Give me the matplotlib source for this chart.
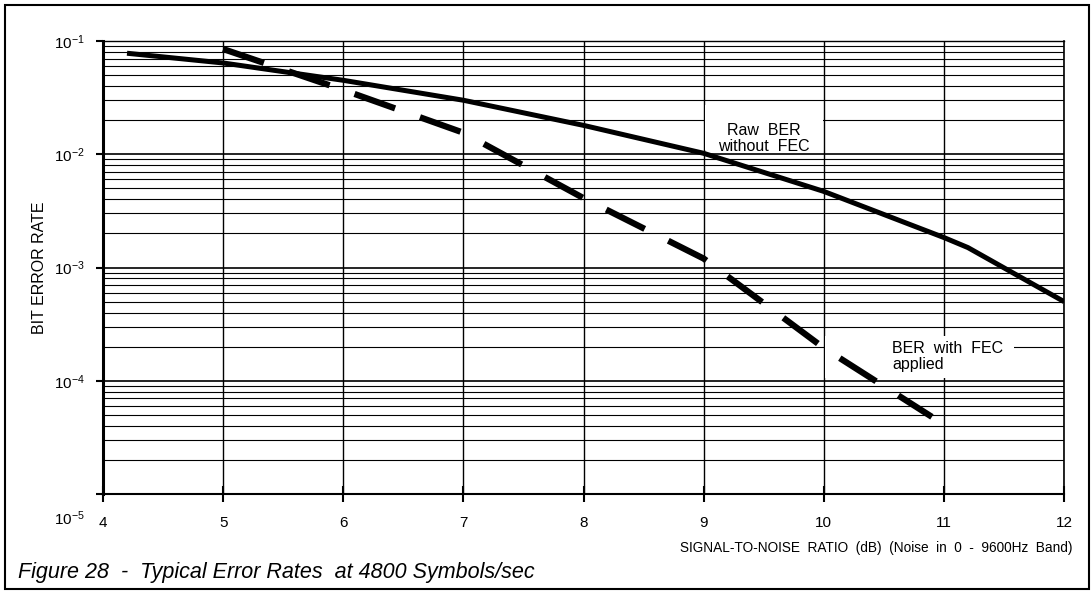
import numpy as np
import matplotlib
matplotlib.use('Agg')
import matplotlib.pyplot as plt
from matplotlib.patches import Rectangle
from matplotlib.transforms import ScaledTranslation

plt.rcParams['font.family'] = ['Liberation Sans', 'DejaVu Sans']
plt.rcParams['mathtext.fontset'] = 'custom'
plt.rcParams['mathtext.rm'] = 'Liberation Sans'
plt.rcParams['mathtext.it'] = 'Liberation Sans:italic'
plt.rcParams['lines.scale_dashes'] = False

# raw BER (solid)
snr_raw = [4.2, 5, 6, 7, 8, 9, 10, 11, 11.2, 12]
ber_raw = [0.078, 0.064, 0.045, 0.030, 0.018, 0.0102, 0.0047, 0.00184, 0.0015, 0.0005]

# BER with FEC (dashed)
snr_fec = [5, 6, 7, 8, 9, 10, 10.9]
ber_fec = [0.085, 0.037, 0.0155, 0.0041, 0.0012, 0.000195, 4.8e-5]

x_ticks = [4, 5, 6, 7, 8, 9, 10, 11, 12]
y_ticks = [1e-1, 1e-2, 1e-3, 1e-4, 1e-5]
y_tick_labels = ['$10^{-1}$', '$10^{-2}$', '$10^{-3}$', '$10^{-4}$', '$10^{-5}$']

fig = plt.figure(figsize=(10.92, 5.92), dpi=100)
ax = fig.add_axes([0.0943, 0.1655, 0.8801, 0.7652])

ax.set_yscale('log')
ax.set_xlim(4, 12)
ax.set_ylim(1e-5, 1e-1)

# grid
ax.grid(True, which='major', axis='x', color='black', lw=1.0)
ax.grid(True, which='major', axis='y', color='black', lw=1.2)
ax.grid(True, which='minor', axis='y', color='black', lw=0.8)
ax.set_axisbelow(True)

# white patches behind the two labels (they blank out the grid)
ax.add_patch(Rectangle((9.01, 0.0108), 0.98, 0.0272 - 0.0108, facecolor='white',
                       edgecolor='none', zorder=1))
ax.add_patch(Rectangle((10.01, 1.05e-4), 1.57, 2.5e-4 - 1.05e-4, facecolor='white',
                       edgecolor='none', zorder=1))

ax.plot(snr_raw, ber_raw, color='black', lw=3.6, solid_capstyle='butt', zorder=3)
fec, = ax.plot(snr_fec, ber_fec, color='black', lw=4.5, dash_capstyle='butt', zorder=3)
fec.set_dashes((31, 19))

ax.set_xticks(x_ticks)
ax.set_xticklabels([str(v) for v in x_ticks], fontsize=11)
ax.set_yticks(y_ticks)
ax.set_yticklabels(y_tick_labels, fontsize=11)
ax.yaxis.set_minor_formatter(plt.NullFormatter())
ax.tick_params(axis='y', which='major', direction='out', length=5, width=1.5, pad=8)
ax.tick_params(axis='y', which='minor', length=0)
ax.tick_params(axis='x', which='major', direction='inout', length=12, width=1.5, pad=10)

# last y label sits lower than its tick
lab = ax.get_yticklabels()[-1]
lab.set_transform(lab.get_transform() + ScaledTranslation(0, -0.23, fig.dpi_scale_trans))

ax.spines['left'].set_linewidth(2.2)
ax.spines['bottom'].set_linewidth(1.5)
ax.spines['top'].set_linewidth(1.0)
ax.spines['right'].set_linewidth(1.2)

ax.text(9.5, 0.0137, 'Raw  BER\nwithout  FEC', fontsize=11.5, ha='center', va='center',
        linespacing=1.05, zorder=4)
ax.text(10.57, 1.63e-4, 'BER  with  FEC\napplied', fontsize=11.5, ha='left', va='center',
        linespacing=1.05, zorder=4)

fig.text(0.0366, 0.547, 'BIT ERROR RATE', rotation=90, fontsize=11.5, ha='center', va='center')
fig.text(0.9817, 0.0743, 'SIGNAL-TO-NOISE  RATIO  (dB)  (Noise  in  0  -  9600Hz  Band)',
         fontsize=9.8, ha='right', va='center')
fig.text(0.0165, 0.0236, 'Figure 28  -  Typical Error Rates  at 4800 Symbols/sec',
         fontsize=15.5, style='italic', ha='left', va='baseline')

fig.patches.append(Rectangle((5 / 1092, 3 / 592), 1084 / 1092, 584 / 592,
                             transform=fig.transFigure, fill=False,
                             edgecolor='black', lw=1.5))

fig.savefig('out.png', dpi=100)
